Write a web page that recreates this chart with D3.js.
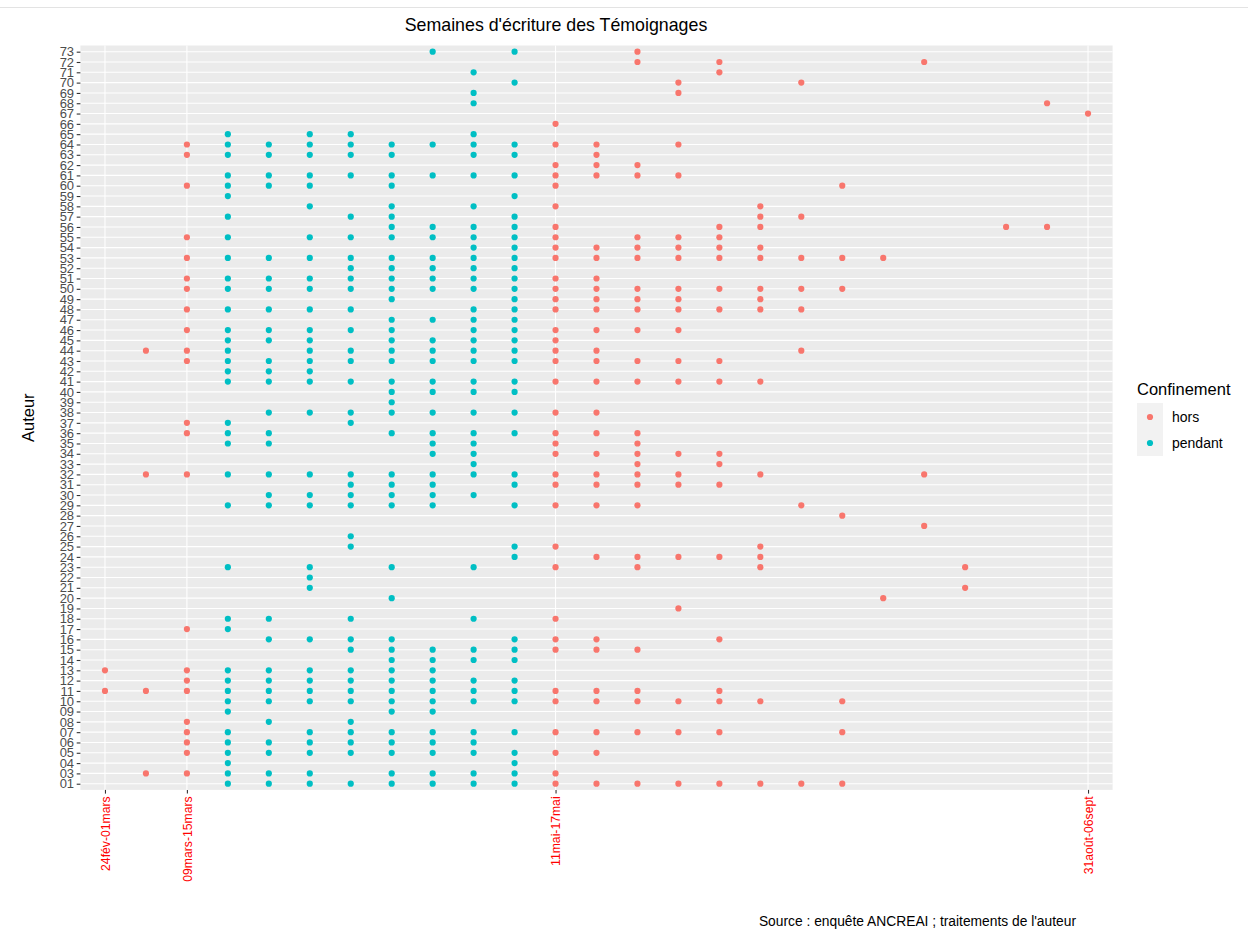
<!DOCTYPE html>
<html>
<head>
<meta charset="utf-8">
<script src="https://cdn.jsdelivr.net/npm/d3@7"></script>
<style>
  body { margin: 0; background: #fff; }
  svg { display: block; font-family: "Liberation Sans", Arial, sans-serif; }
</style>
</head>
<body>
<div id="chart"></div>
<script>
// semaines (axe x discret), seules quelques-unes sont étiquetées
var weeks = ["24fév-01mars", "02mars-08mars", "09mars-15mars", "16mars-22mars", "23mars-29mars",
  "30mars-05avr", "06avr-12avr", "13avr-19avr", "20avr-26avr", "27avr-03mai", "04mai-10mai",
  "11mai-17mai", "18mai-24mai", "25mai-31mai", "01juin-07juin", "08juin-14juin", "15juin-21juin",
  "22juin-28juin", "29juin-05juil", "06juil-12juil", "13juil-19juil", "20juil-26juil",
  "03août-09août", "17août-23août", "31août-06sept"]
var weekLabels = ["24fév-01mars", "09mars-15mars", "11mai-17mai", "31août-06sept"]

var confinement = ["hors", "hors", "hors", "pendant", "pendant", "pendant", "pendant", "pendant",
  "pendant", "pendant", "pendant", "hors", "hors", "hors", "hors", "hors", "hors", "hors", "hors",
  "hors", "hors", "hors", "hors", "hors", "hors"]

var authors = ["01","03","04","05","06","07","08","09","10","11","12","13","14","15","16","17","18",
  "19","20","21","22","23","24","25","26","27","28","29","30","31","32","33","34","35","36","37",
  "38","39","40","41","42","43","44","45","46","47","48","49","50","51","52","53","54","55","56",
  "57","58","59","60","61","62","63","64","65","66","67","68","69","70","71","72","73"]

// auteurs ayant écrit chaque semaine (même ordre que weeks)
var authorsByWeek = [
  ["11","13"],
  ["03","11","32","44"],
  ["03","05","06","07","08","11","12","13","17","32","36","37","43","44","46","48","50","51","53","55","60","63","64"],
  ["01","03","04","05","06","07","09","10","11","12","13","17","18","23","29","32","35","36","37","41","42","43","44","45","46","48","50","51","53","55","57","59","60","61","63","64","65"],
  ["01","03","05","06","08","10","11","12","13","16","18","29","30","32","35","36","38","41","42","43","45","46","48","50","51","53","60","61","63","64"],
  ["01","03","05","06","07","10","11","12","13","16","21","22","23","29","30","32","38","41","42","43","44","45","46","48","50","51","53","55","58","60","61","63","64","65"],
  ["01","05","06","07","08","10","11","12","13","15","16","18","25","26","29","30","31","32","37","38","41","43","44","46","48","50","51","52","53","55","57","61","63","64","65"],
  ["01","03","05","06","07","09","10","11","12","13","14","15","16","20","23","29","30","31","32","36","38","39","40","41","43","44","45","46","47","49","50","51","52","53","55","56","57","58","60","61","63","64"],
  ["01","03","05","06","07","09","10","11","12","13","14","15","29","30","31","32","34","35","36","38","40","41","43","44","45","47","50","51","52","53","55","56","61","64","73"],
  ["01","03","05","06","07","10","11","12","14","15","18","23","30","32","33","34","35","36","38","40","41","43","44","45","46","47","48","50","51","52","53","54","55","56","58","61","63","64","65","68","69","71"],
  ["01","03","04","05","07","10","11","12","14","15","16","24","25","29","31","32","36","38","40","41","43","44","45","46","47","48","49","50","51","52","53","54","55","56","57","59","61","63","64","70","73"],
  ["01","03","05","07","10","11","15","16","18","23","25","29","31","32","34","35","36","38","41","43","44","45","46","48","49","50","51","53","54","55","56","58","60","61","62","64","66"],
  ["01","05","07","10","11","15","16","24","29","31","32","34","36","38","41","43","44","46","48","49","50","51","53","54","61","62","63","64"],
  ["01","07","10","11","15","23","24","29","31","32","33","34","35","36","41","43","46","48","49","50","53","54","55","61","62","72","73"],
  ["01","07","10","19","24","31","32","34","41","43","46","48","49","50","53","54","55","61","64","69","70"],
  ["01","07","10","11","16","24","31","33","34","41","43","48","50","53","54","55","56","71","72"],
  ["01","10","23","24","25","32","41","48","49","50","53","54","56","57","58"],
  ["01","29","44","48","50","53","57","70"],
  ["01","07","10","28","50","53","60"],
  ["20","53"],
  ["27","32","72"],
  ["21","23"],
  ["56"],
  ["56","68"],
  ["67"]
]

var groups = ["hors", "pendant"]
var colors = ["#F8766D", "#00BFC4"]

var width = 1248, height = 929
var pLeft = 80.4, pRight = 1112.6, pTop = 45.5, pBottom = 789.9

var svg = d3.select("#chart").append("svg")
  .attr("width", width)
  .attr("height", height)

// fine ligne grise en haut de l'image
svg.append("line")
  .attr("x1", 0).attr("x2", width).attr("y1", 7.5).attr("y2", 7.5)
  .attr("stroke", "#e3e3e3").attr("stroke-width", 1)

var x = d3.scalePoint().domain(weeks).range([pLeft, pRight]).padding(0.6)
var y = d3.scalePoint().domain(authors).range([pBottom, pTop]).padding(0.6)
var color = d3.scaleOrdinal().domain(groups).range(colors)

// panel
svg.append("rect")
  .attr("x", pLeft).attr("y", pTop)
  .attr("width", pRight - pLeft).attr("height", pBottom - pTop)
  .attr("fill", "#EBEBEB")

var grid = svg.append("g")
grid.selectAll(".hgrid").data(authors).enter().append("line")
  .attr("class", "hgrid")
  .attr("x1", pLeft).attr("x2", pRight)
  .attr("y1", function(d){ return y(d) }).attr("y2", function(d){ return y(d) })
  .attr("stroke", "#fff").attr("stroke-width", 1.1)
grid.selectAll(".vgrid").data(weekLabels).enter().append("line")
  .attr("class", "vgrid")
  .attr("y1", pTop).attr("y2", pBottom)
  .attr("x1", function(d){ return x(d) }).attr("x2", function(d){ return x(d) })
  .attr("stroke", "#fff").attr("stroke-width", 1.1)

// points
var points = []
authorsByWeek.forEach(function(arr, i){
  arr.forEach(function(a){
    points.push({week: weeks[i], author: a, conf: confinement[i]})
  })
})

svg.append("g").selectAll("circle").data(points).enter().append("circle")
  .attr("cx", function(d){ return x(d.week) })
  .attr("cy", function(d){ return y(d.author) })
  .attr("r", 3.1)
  .attr("fill", function(d){ return color(d.conf) })

// y axis (les étiquettes se chevauchent comme dans l'original)
var yAxis = d3.axisLeft(y).tickSize(3.7).tickPadding(2.6)
var gy = svg.append("g")
  .attr("transform", "translate(" + pLeft + ",0)")
  .call(yAxis)
gy.select(".domain").remove()
gy.selectAll(".tick line").attr("stroke", "#333").attr("stroke-width", 1.1)
gy.selectAll(".tick text")
  .attr("fill", "#4D4D4D")
  .style("font-size", "13px")
  .style("font-family", "'Liberation Sans', Arial, sans-serif")

// x axis
var xAxis = d3.axisBottom(x).tickValues(weekLabels).tickSize(3.7)
var gx = svg.append("g")
  .attr("transform", "translate(0," + pBottom + ")")
  .call(xAxis)
gx.select(".domain").remove()
gx.selectAll(".tick line").attr("stroke", "#333").attr("stroke-width", 1.1)
gx.selectAll(".tick text")
  .attr("transform", "rotate(-90)")
  .attr("text-anchor", "end")
  .attr("x", -6.5)
  .attr("y", 0)
  .attr("dy", "0.35em")
  .attr("fill", "#FF0000")
  .style("font-size", "12.2px")
  .style("font-family", "'Liberation Sans', Arial, sans-serif")

// titres
svg.append("text")
  .attr("x", 556).attr("y", 31)
  .attr("text-anchor", "middle")
  .style("font-size", "17.8px")
  .attr("fill", "#000")
  .text("Semaines d'écriture des Témoignages")

svg.append("text")
  .attr("transform", "translate(34," + ((pTop + pBottom) / 2) + ") rotate(-90)")
  .attr("text-anchor", "middle")
  .style("font-size", "16.5px")
  .attr("fill", "#000")
  .text("Auteur")

svg.append("text")
  .attr("x", 1076).attr("y", 926)
  .attr("text-anchor", "end")
  .style("font-size", "13.8px")
  .attr("fill", "#000")
  .text("Source : enquête ANCREAI ; traitements de l'auteur")

// legende
var lg = svg.append("g").attr("transform", "translate(1137,0)")
lg.append("text")
  .attr("x", 0).attr("y", 395)
  .style("font-size", "16.5px")
  .attr("fill", "#000")
  .text("Confinement")
lg.append("rect")
  .attr("x", 0).attr("y", 403).attr("width", 26).attr("height", 53)
  .attr("fill", "#F2F2F2")
var keys = lg.selectAll(".key").data(groups).enter().append("g")
  .attr("class", "key")
  .attr("transform", function(d, i){ return "translate(0," + (417 + i * 26) + ")" })
keys.append("circle")
  .attr("cx", 13).attr("cy", 0).attr("r", 3.1)
  .attr("fill", function(d){ return color(d) })
keys.append("text")
  .attr("x", 35).attr("y", 0).attr("dy", "0.35em")
  .style("font-size", "14px")
  .attr("fill", "#000")
  .text(function(d){ return d })
</script>
</body>
</html>
